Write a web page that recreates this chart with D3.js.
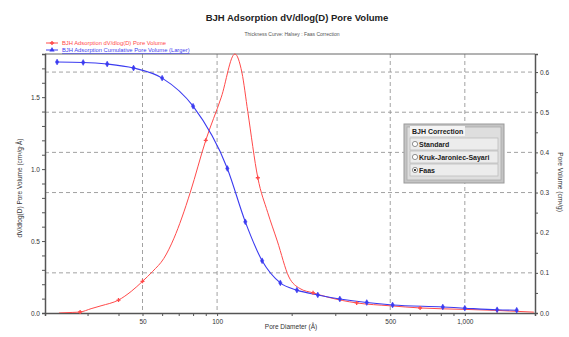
<!DOCTYPE html>
<html>
<head>
<meta charset="utf-8">
<script src="https://cdn.jsdelivr.net/npm/d3@7"></script>
<style>
  body { margin: 0; background: #fff; }
  svg { display: block; font-family: "Liberation Sans", Arial, sans-serif; }
</style>
</head>
<body>
<div id="chart"></div>
<script>
// dV/dlog(D) pore volume (left axis)
const redDiam = [23, 26, 28, 31, 34, 40, 45, 50, 55, 61, 67, 72, 78, 90, 104, 118, 126, 133, 146, 160, 175, 195, 216, 244, 280, 366, 500, 660, 1000, 1350, 1900];
const redVals = [0.0, 0.004, 0.007, 0.03, 0.05, 0.09, 0.15, 0.22, 0.29, 0.38, 0.52, 0.66, 0.84, 1.2, 1.5, 1.8, 1.67, 1.40, 0.94, 0.70, 0.50, 0.25, 0.17, 0.14, 0.11, 0.07, 0.05, 0.035, 0.025, 0.018, 0.006];
const redMarks = [28, 40, 50, 90, 146, 244, 366, 660, 1350];

// cumulative pore volume (right axis)
const blueDiam = [22.6, 28.8, 36, 46, 60, 80, 110, 130, 152, 180, 210, 255, 313, 402, 511, 815, 1000, 1350, 1620];
const blueVals = [0.625, 0.624, 0.62, 0.61, 0.585, 0.515, 0.36, 0.227, 0.13, 0.075, 0.057, 0.045, 0.035, 0.026, 0.02, 0.015, 0.012, 0.008, 0.007];

const xLabels = [50, 100, 500, 1000];
const leftTicks = [0, 0.5, 1.0, 1.5];
const rightTicks = [0, 0.1, 0.2, 0.3, 0.4, 0.5, 0.6];
const gridRight = [0.1, 0.3, 0.4, 0.5, 0.6];
const corrections = ["Standard", "Kruk-Jaroniec-Sayari", "Faas"];

const W = 569, H = 337;
const plot = { left: 45, right: 535, top: 54, bottom: 313 };
const red = "#ff4a4a", blue = "#3b3bf0", axisCol = "#555";

const svg = d3.select("#chart").append("svg").attr("width", W).attr("height", H);
svg.append("rect").attr("width", W).attr("height", H).attr("fill", "#fff");

const x = d3.scaleLog().domain([20.2, 1920]).range([plot.left, plot.right]);
const yL = d3.scaleLinear().domain([0, 1.8]).range([plot.bottom, plot.top]);
const yR = d3.scaleLinear().domain([0, 0.645]).range([plot.bottom, plot.top]);

// grid
const grid = svg.append("g").attr("stroke", "#8a8a8a").attr("stroke-width", 0.8).attr("stroke-dasharray", "4,3");
gridRight.forEach(v => grid.append("line").attr("x1", plot.left).attr("x2", plot.right).attr("y1", yR(v)).attr("y2", yR(v)));
xLabels.forEach(v => grid.append("line").attr("x1", x(v)).attr("x2", x(v)).attr("y1", plot.top).attr("y2", plot.bottom));

// top border
svg.append("line").attr("x1", plot.left).attr("x2", plot.right).attr("y1", plot.top).attr("y2", plot.top)
  .attr("stroke", "#666").attr("stroke-width", 1);

// axes
const fmt = d3.format(",");
const gx = svg.append("g").attr("transform", `translate(0,${plot.bottom})`)
  .call(d3.axisBottom(x).tickValues(x.ticks().filter(t => t <= 1900)).tickSize(3).tickFormat(d => xLabels.includes(d) ? fmt(d) : ""));
const gl = svg.append("g").attr("transform", `translate(${plot.left},0)`)
  .call(d3.axisLeft(yL).tickValues(d3.range(0, 1.81, 0.1)).tickSize(3).tickFormat(d => leftTicks.some(t => Math.abs(t - d) < 1e-6) ? d.toFixed(1) : ""));
const gr = svg.append("g").attr("transform", `translate(${plot.right},0)`)
  .call(d3.axisRight(yR).tickValues(d3.range(0, 0.64, 0.05)).tickSize(3).tickFormat(d => rightTicks.some(t => Math.abs(t - d) < 1e-6) ? d.toFixed(1) : ""));
[gx, gl, gr].forEach(g => {
  g.select(".domain").attr("stroke", axisCol).attr("stroke-width", 1.5);
  g.selectAll(".tick line").attr("stroke", axisCol);
  g.selectAll("text").attr("fill", "#333").style("font-size", "6.5px");
});
gl.selectAll("text").attr("x", -5);
gr.selectAll("text").attr("x", 5);
gx.selectAll("text").attr("y", 6);

// clip
svg.append("clipPath").attr("id", "clip").append("rect")
  .attr("x", plot.left).attr("y", plot.top - 1).attr("width", plot.right - plot.left).attr("height", plot.bottom - plot.top + 1);

const redPts = redDiam.map((d, i) => [d, redVals[i]]);
const bluePts = blueDiam.map((d, i) => [d, blueVals[i]]);

svg.append("path").datum(redPts).attr("clip-path", "url(#clip)")
  .attr("fill", "none").attr("stroke", red).attr("stroke-width", 1)
  .attr("d", d3.line().x(d => x(d[0])).y(d => yL(d[1])).curve(d3.curveMonotoneX));
svg.append("path").datum(bluePts).attr("clip-path", "url(#clip)")
  .attr("fill", "none").attr("stroke", blue).attr("stroke-width", 1.1)
  .attr("d", d3.line().x(d => x(d[0])).y(d => yR(d[1])).curve(d3.curveMonotoneX));

svg.append("g").selectAll("path").data(redPts.filter(p => redMarks.includes(p[0]))).join("path")
  .attr("transform", d => `translate(${x(d[0])},${yL(d[1])})`)
  .attr("d", d3.symbol(d3.symbolCross, 9)).attr("fill", red);
svg.append("g").selectAll("path").data(bluePts).join("path")
  .attr("transform", d => `translate(${x(d[0])},${yR(d[1])})`)
  .attr("d", d3.symbol(d3.symbolDiamond, 10)).attr("fill", blue).attr("stroke", blue).attr("stroke-width", 0.5);

// titles
svg.append("text").attr("x", 297).attr("y", 21).attr("text-anchor", "middle")
  .style("font-size", "9.5px").style("font-weight", "bold").attr("fill", "#222")
  .text("BJH Adsorption dV/dlog(D) Pore Volume");
svg.append("text").attr("x", 292).attr("y", 36).attr("text-anchor", "middle")
  .style("font-size", "5px").attr("fill", "#555")
  .text("Thickness Curve: Halsey : Faas Correction");
svg.append("text").attr("x", 291).attr("y", 329).attr("text-anchor", "middle")
  .style("font-size", "6.5px").attr("fill", "#333").text("Pore Diameter (Å)");
svg.append("text").attr("transform", "translate(22,188) rotate(-90)").attr("text-anchor", "middle")
  .style("font-size", "6.5px").attr("fill", "#333").text("dV/dlog(D) Pore Volume (cm³/g·Å)");
svg.append("text").attr("transform", "translate(558,182) rotate(90)").attr("text-anchor", "middle")
  .style("font-size", "6.5px").attr("fill", "#333").text("Pore Volume (cm³/g)");

// series legend
const lg = svg.append("g");
lg.append("line").attr("x1", 46).attr("x2", 58).attr("y1", 43).attr("y2", 43).attr("stroke", red);
lg.append("path").attr("transform", "translate(52,43)").attr("d", d3.symbol(d3.symbolCross, 10)).attr("fill", red);
lg.append("text").attr("x", 62).attr("y", 45).style("font-size", "5.8px").attr("fill", red)
  .text("BJH Adsorption dV/dlog(D) Pore Volume");
lg.append("line").attr("x1", 46).attr("x2", 58).attr("y1", 50).attr("y2", 50).attr("stroke", blue);
lg.append("path").attr("transform", "translate(52,50)").attr("d", d3.symbol(d3.symbolTriangle, 12)).attr("fill", blue);
lg.append("text").attr("x", 62).attr("y", 52).style("font-size", "5.8px").attr("fill", blue)
  .attr("text-decoration", "underline").text("BJH Adsorption Cumulative Pore Volume (Larger)");

// BJH Correction box
const bx = 404, by = 124, bw = 100, bh = 59;
const box = svg.append("g");
box.append("rect").attr("x", bx).attr("y", by).attr("width", bw).attr("height", bh)
  .attr("fill", "#c4c4c4").attr("stroke", "#9a9a9a").attr("stroke-width", 1);
box.append("rect").attr("x", bx + 3).attr("y", by + 3).attr("width", bw - 6).attr("height", bh - 6)
  .attr("fill", "#dedede").attr("stroke", "#ababab").attr("stroke-width", 0.8);
box.append("rect").attr("x", bx + 6).attr("y", by + 2).attr("width", 55).attr("height", 10).attr("fill", "#f4f4f4");
box.append("text").attr("x", bx + 8).attr("y", by + 10).style("font-size", "7px").style("font-weight", "bold")
  .attr("fill", "#222").text("BJH Correction");
corrections.forEach((c, i) => {
  const ry = by + 14 + i * 13;
  box.append("rect").attr("x", bx + 6).attr("y", ry).attr("width", bw - 12).attr("height", 12)
    .attr("fill", "#ececec").attr("stroke", "#bdbdbd").attr("stroke-width", 0.8);
  box.append("circle").attr("cx", bx + 11).attr("cy", ry + 6).attr("r", 2.6)
    .attr("fill", "#fff").attr("stroke", "#666").attr("stroke-width", 0.7);
  if (c === "Faas") box.append("circle").attr("cx", bx + 11).attr("cy", ry + 6).attr("r", 1.1).attr("fill", "#111");
  box.append("text").attr("x", bx + 15).attr("y", ry + 8.5).style("font-size", "7px").style("font-weight", "bold")
    .attr("fill", "#222").text(c);
});
</script>
</body>
</html>
